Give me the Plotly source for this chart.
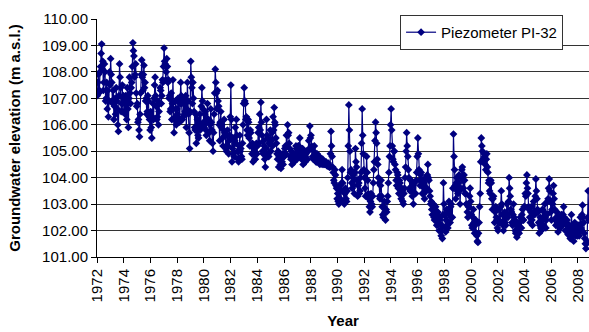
import plotly.graph_objects as go

# Twice-monthly groundwater elevation readings (m a.s.l.)
lvl_1972 = [107.1, 107.6, 107.9, 107.2, 107.3, 108.0, 108.2, 108.7, 109.05, 108.1, 108.4, 107.3, 107.6, 108.3, 108.0, 106.9, 107.0, 107.6, 106.6, 107.3, 106.3, 106.9, 108.0, 107.5]
lvl_1973 = [108.5, 107.9, 107.6, 106.9, 106.8, 107.3, 106.2, 106.7, 107.0, 106.4, 107.4, 106.9, 106.6, 106.0, 105.75, 107.1, 108.3, 107.8, 107.4, 106.5, 106.8, 107.5, 106.5, 107.1]
lvl_1974 = [107.0, 106.5, 106.4, 107.1, 106.9, 106.2, 107.4, 106.6, 105.9, 107.0, 107.8, 107.2, 106.8, 107.4, 107.6, 108.2, 109.1, 108.8, 108.6, 107.8, 107.9, 108.3, 107.2, 106.7]
lvl_1975 = [106.8, 106.1, 106.2, 105.8, 105.55, 106.4, 107.2, 107.9, 108.45, 107.8, 107.3, 107.9, 108.25, 107.4, 107.6, 106.9, 107.0, 106.4, 106.5, 107.1, 106.9, 106.3, 106.2, 105.8]
lvl_1976 = [106.5, 105.9, 105.5, 106.3, 106.8, 106.2, 107.0, 107.5, 107.8, 107.1, 106.7, 106.2, 106.3, 106.9, 106.0, 106.5, 106.8, 107.4, 107.3, 106.8, 107.1, 107.7, 107.6, 108.2]
lvl_1977 = [108.9, 108.4, 108.3, 107.7, 108.0, 108.5, 108.2, 107.6, 107.7, 107.0, 107.1, 106.5, 106.6, 107.2, 106.2, 106.8, 107.7, 106.6, 105.7, 106.2, 106.3, 106.9, 106.0, 106.6]
lvl_1978 = [106.4, 107.0, 106.9, 106.2, 106.1, 106.8, 107.6, 107.1, 106.8, 106.2, 106.3, 106.9, 107.0, 106.4, 106.5, 107.1, 105.9, 106.6, 107.6, 106.9, 106.4, 105.7, 105.1, 106.5]
lvl_1979 = [108.4, 107.8, 107.4, 106.8, 107.6, 107.0, 106.5, 105.9, 105.8, 106.4, 105.3, 105.9, 106.2, 105.6, 105.5, 106.1, 106.4, 105.8, 106.0, 106.7, 107.4, 106.9, 106.6, 106.1]
lvl_1980 = [105.9, 106.4, 106.5, 105.8, 105.6, 106.2, 106.8, 106.1, 106.2, 105.7, 105.4, 106.0, 106.6, 106.1, 105.8, 105.3, 105.0, 105.7, 106.4, 107.2, 108.1, 107.6, 107.2, 106.6]
lvl_1981 = [107.3, 106.9, 106.7, 106.0, 105.4, 106.1, 106.5, 105.9, 106.0, 105.5, 105.2, 105.8, 106.2, 105.7, 105.6, 105.1, 105.0, 105.6, 105.8, 105.2, 104.9, 105.4, 105.6, 106.3]
lvl_1982 = [107.5, 106.2, 104.6, 105.1, 105.5, 104.9, 104.8, 105.4, 105.9, 105.3, 106.2, 105.6, 105.0, 104.7, 104.6, 105.2, 105.6, 105.0, 105.1, 104.8, 104.7, 105.3, 106.0, 106.8]
lvl_1983 = [107.4, 106.9, 106.8, 106.2, 106.3, 105.8, 105.6, 106.2, 106.1, 105.5, 105.2, 105.8, 105.7, 105.2, 104.9, 105.3, 104.6, 105.1, 105.0, 104.7, 104.7, 105.2, 105.3, 104.9]
lvl_1984 = [105.2, 105.7, 105.9, 105.3, 106.4, 105.8, 106.85, 106.1, 105.6, 105.0, 104.9, 105.4, 105.2, 104.7, 104.4, 105.1, 106.2, 105.6, 105.5, 104.9, 104.8, 105.3, 105.3, 105.8]
lvl_1985 = [105.0, 105.4, 105.7, 105.2, 106.3, 105.8, 106.65, 106.1, 106.0, 105.5, 105.3, 104.9, 104.7, 105.0, 104.4, 104.8, 104.9, 104.5, 104.35, 104.8, 104.6, 104.9, 104.5, 104.8]
lvl_1986 = [104.8, 105.1, 105.2, 104.9, 105.6, 105.2, 106.0, 105.6, 105.7, 105.3, 105.1, 104.8, 104.7, 105.0, 104.5, 104.8, 104.9, 104.6, 104.6, 104.9, 104.8, 105.2, 105.1, 104.7]
lvl_1987 = [104.9, 105.2, 105.2, 104.8, 105.5, 105.1, 105.0, 104.7, 104.8, 105.1, 104.5, 104.8, 104.7, 104.9, 104.6, 104.9, 105.0, 104.7, 104.7, 105.0, 105.4, 105.1, 105.95, 105.5]
lvl_1988 = [105.6, 105.2, 105.1, 104.8, 104.7, 105.0, 105.2, 104.9, 104.9, 104.6, 104.6, 104.9, 104.8, 104.6, 104.6, 104.8, 104.5, 104.7, 104.7, 104.55, 104.5, 104.7, 104.6, 104.5]
lvl_1989 = [104.6, 104.5, 104.5, 104.6, 104.5, 104.45, 104.45, 104.55, 104.5, 104.4, 104.4, 104.9, 105.75, 105.2, 104.8, 104.4, 104.2, 103.9, 103.8, 104.3, 104.1, 103.7, 103.6, 103.2]
lvl_1990 = [103.4, 103.1, 103.0, 103.5, 103.7, 103.2, 103.1, 103.8, 104.3, 103.8, 103.5, 103.1, 103.0, 103.4, 103.6, 103.2, 103.1, 103.5, 104.0, 105.2, 106.75, 105.8, 105.0, 104.2]
lvl_1991 = [104.3, 103.8, 103.6, 104.0, 104.1, 103.7, 103.4, 104.2, 105.1, 104.6, 104.4, 103.9, 103.3, 103.7, 103.8, 103.4, 103.5, 104.0, 104.2, 105.3, 106.6, 105.6, 104.9, 104.3]
lvl_1992 = [104.0, 103.6, 103.3, 104.2, 104.8, 104.2, 103.9, 103.4, 103.2, 102.9, 102.7, 103.1, 103.4, 103.0, 102.9, 103.3, 103.8, 104.3, 104.6, 105.4, 106.1, 105.7, 105.3, 104.7]
lvl_1993 = [104.5, 104.0, 103.8, 103.3, 103.2, 103.7, 103.9, 103.3, 102.9, 102.6, 102.5, 102.9, 103.1, 102.7, 102.4, 102.8, 102.7, 103.1, 103.3, 103.8, 104.2, 104.8, 105.2, 106.0]
lvl_1994 = [106.6, 105.8, 105.2, 104.7, 104.6, 105.0, 105.0, 104.5, 104.3, 103.9, 103.7, 104.2, 104.1, 103.6, 103.4, 103.9, 103.8, 103.4, 103.2, 103.6, 103.5, 103.1, 103.0, 103.4]
lvl_1995 = [103.6, 104.0, 104.4, 105.0, 105.7, 105.2, 104.8, 104.3, 104.0, 103.6, 103.5, 103.9, 103.9, 103.5, 103.3, 103.7, 103.0, 103.4, 103.8, 103.4, 103.4, 103.9, 104.2, 104.8]
lvl_1996 = [105.5, 104.9, 104.3, 103.9, 103.7, 104.1, 104.2, 103.7, 103.4, 103.8, 103.9, 103.4, 103.2, 103.6, 104.0, 103.5, 103.6, 104.1, 104.5, 104.0, 103.9, 103.5, 103.3, 103.0]
lvl_1997 = [103.1, 102.8, 102.6, 103.0, 103.0, 102.5, 102.4, 102.8, 102.9, 102.4, 102.2, 102.6, 102.7, 102.3, 102.0, 102.4, 102.5, 102.0, 101.8, 102.2, 101.7, 102.6, 103.8, 103.0]
lvl_1998 = [102.6, 102.1, 101.95, 102.4, 102.8, 102.2, 102.1, 102.7, 103.1, 102.6, 102.3, 102.9, 103.0, 102.5, 102.5, 103.6, 105.65, 104.8, 104.3, 103.7, 103.2, 103.8, 104.0, 103.5]
lvl_1999 = [103.4, 103.8, 104.1, 103.5, 103.0, 103.6, 104.0, 104.3, 104.4, 103.9, 103.6, 104.1, 103.9, 103.4, 103.4, 103.0, 103.0, 102.7, 102.5, 102.9, 102.9, 103.3, 103.6, 103.1]
lvl_2000 = [102.6, 102.2, 102.1, 102.5, 102.8, 102.3, 101.9, 102.2, 102.4, 101.9, 101.8, 101.6, 101.55, 101.9, 102.3, 102.9, 103.4, 104.6, 105.5, 105.2, 105.0, 104.7, 104.6, 104.9]
lvl_2001 = [104.8, 104.5, 104.3, 104.7, 104.9, 104.4, 104.2, 103.8, 103.9, 103.5, 103.4, 103.9, 103.8, 103.2, 102.8, 103.2, 103.3, 102.8, 102.3, 102.7, 102.9, 102.5, 102.4, 102.1]
lvl_2002 = [102.0, 102.4, 102.8, 102.3, 102.3, 102.9, 103.5, 103.0, 102.6, 102.2, 102.0, 102.4, 102.7, 102.3, 102.2, 102.6, 103.0, 102.6, 102.5, 103.1, 104.0, 103.6, 103.3, 102.8]
lvl_2003 = [102.7, 102.3, 102.2, 102.6, 103.0, 102.5, 102.4, 102.0, 101.9, 102.2, 101.75, 102.0, 102.3, 101.9, 101.9, 102.3, 102.5, 102.1, 102.1, 102.6, 102.8, 102.4, 102.4, 102.9]
lvl_2004 = [102.9, 103.4, 103.3, 103.8, 104.1, 103.6, 103.4, 102.9, 102.8, 102.5, 102.3, 102.7, 102.9, 102.4, 102.2, 102.6, 103.1, 102.7, 102.6, 103.3, 103.95, 103.5, 103.2, 102.8]
lvl_2005 = [102.7, 102.3, 101.9, 102.2, 102.5, 102.1, 102.0, 102.4, 102.8, 102.4, 102.2, 102.7, 103.0, 102.5, 102.1, 102.4, 102.6, 103.1, 103.2, 103.6, 103.95, 103.5, 103.1, 102.7]
lvl_2006 = [102.4, 102.8, 103.0, 103.4, 103.7, 103.2, 102.8, 102.4, 102.2, 102.5, 102.7, 102.3, 101.95, 102.2, 102.5, 102.1, 102.1, 102.4, 102.6, 102.2, 102.2, 102.6, 102.9, 102.5]
lvl_2007 = [102.3, 102.0, 102.0, 102.3, 102.4, 102.0, 101.85, 102.1, 102.2, 101.9, 101.7, 102.1, 102.6, 102.2, 102.0, 101.8, 101.6, 101.9, 102.3, 102.0, 101.8, 102.2, 102.1, 101.8]
lvl_2008 = [102.2, 101.9, 101.8, 102.2, 102.5, 102.1, 102.0, 102.6, 102.96, 102.5, 102.3, 101.9, 101.7, 101.5, 101.32, 101.5, 101.6, 102.5, 103.5, 102.4]

yearly = [
    (1972, lvl_1972), (1973, lvl_1973), (1974, lvl_1974), (1975, lvl_1975),
    (1976, lvl_1976), (1977, lvl_1977), (1978, lvl_1978), (1979, lvl_1979),
    (1980, lvl_1980), (1981, lvl_1981), (1982, lvl_1982), (1983, lvl_1983),
    (1984, lvl_1984), (1985, lvl_1985), (1986, lvl_1986), (1987, lvl_1987),
    (1988, lvl_1988), (1989, lvl_1989), (1990, lvl_1990), (1991, lvl_1991),
    (1992, lvl_1992), (1993, lvl_1993), (1994, lvl_1994), (1995, lvl_1995),
    (1996, lvl_1996), (1997, lvl_1997), (1998, lvl_1998), (1999, lvl_1999),
    (2000, lvl_2000), (2001, lvl_2001), (2002, lvl_2002), (2003, lvl_2003),
    (2004, lvl_2004), (2005, lvl_2005), (2006, lvl_2006), (2007, lvl_2007),
    (2008, lvl_2008),
]
reading_days = ["08", "23"]

dates, levels = [], []
for yr, vals in yearly:
    for i, v in enumerate(vals):
        dates.append(f"{yr}-{i // 2 + 1:02d}-{reading_days[i % 2]}")
        levels.append(v)

tick_years = list(range(1972, 2009, 2))
tick_vals = [f"{y}-01-01" for y in tick_years]
tick_text = [str(y) for y in tick_years]
y_ticks = list(range(101, 111))

navy = "#000080"
font_family = "Arial, Liberation Sans, sans-serif"

fig = go.Figure()
fig.add_trace(go.Scatter(
    x=dates, y=levels, mode="lines+markers", name="Piezometer PI-32",
    line=dict(color=navy, width=1.2),
    marker=dict(symbol="diamond", size=6, color=navy),
))

fig.update_layout(
    width=589, height=332,
    margin=dict(l=97, r=0, t=19, b=75),
    paper_bgcolor="white", plot_bgcolor="white",
    font=dict(family=font_family, size=15, color="black"),
    showlegend=True,
    legend=dict(
        x=0.616, y=1.017, xanchor="left", yanchor="top",
        bgcolor="white", bordercolor="#333333", borderwidth=1,
        font=dict(size=15),
    ),
)
fig.update_xaxes(
    type="date", range=["1972-01-01", "2008-10-31"],
    tickmode="array", tickvals=tick_vals, ticktext=tick_text,
    tickangle=-90, tickfont=dict(size=15),
    ticks="outside", ticklen=5, tickcolor="black",
    showline=True, linecolor="black", linewidth=1,
    showgrid=False, zeroline=False,
    title=dict(text="<b>Year</b>", font=dict(size=15), standoff=14),
)
fig.update_yaxes(
    range=[101, 110], tickmode="array", tickvals=y_ticks, tickformat=".2f",
    ticks="outside", ticklen=5, tickcolor="black",
    showline=True, linecolor="black", linewidth=1,
    showgrid=True, gridcolor="#333333", gridwidth=1, zeroline=False,
    title=dict(text="<b>Groundwater elevation (m a.s.l.)</b>", font=dict(size=15), standoff=17),
)

fig.write_html(
    "out.html",
    config={"displayModeBar": False},
    post_script="document.body.style.margin='0px';",
)
